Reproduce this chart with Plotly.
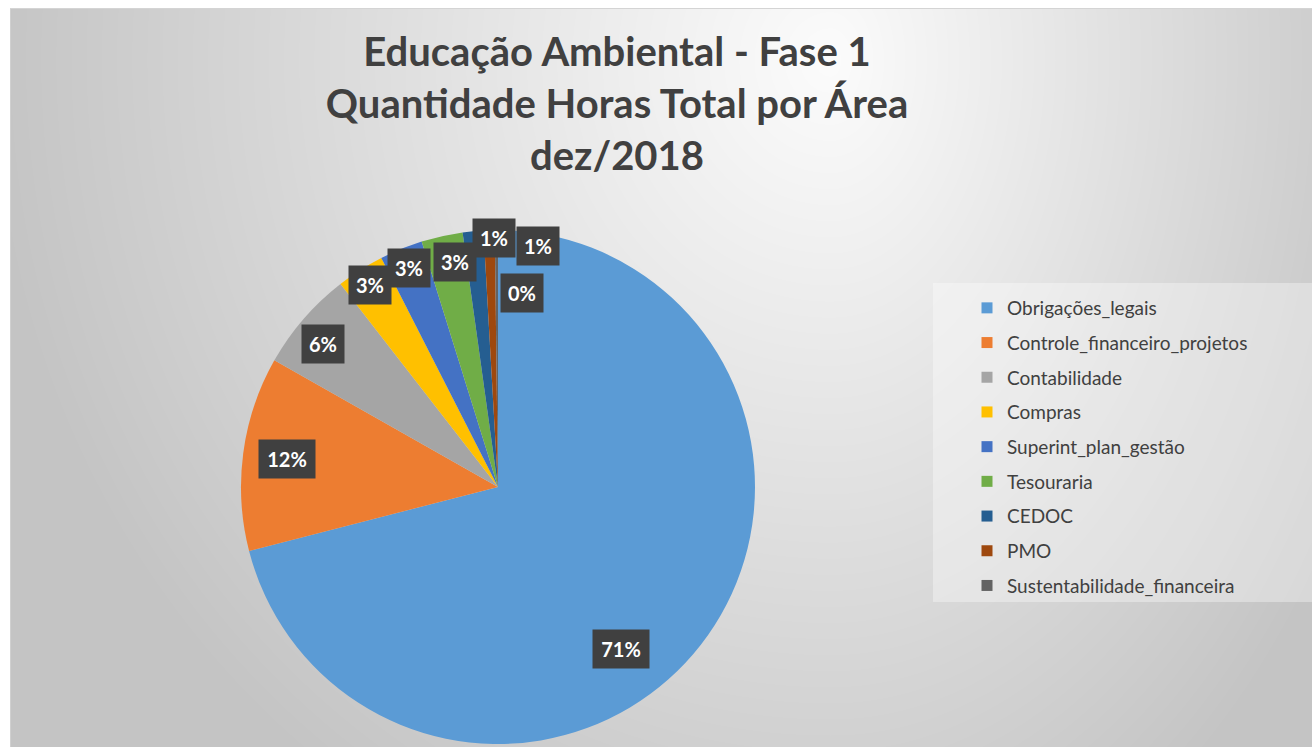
import base64, struct, zlib
import numpy as np
import plotly.graph_objects as go

# ---------------- data ----------------
categories = ["Obrigações_legais", "Controle_financeiro_projetos", "Contabilidade",
              "Compras", "Superint_plan_gestão", "Tesouraria", "CEDOC", "PMO",
              "Sustentabilidade_financeira"]
hours = [71.0, 12.2, 6.3, 3.0, 2.7, 2.6, 1.3, 0.7, 0.2]
colors = ["#5B9BD5", "#ED7D31", "#A5A5A5", "#FFC000", "#4472C4",
          "#70AD47", "#255E91", "#9E480E", "#636363"]
title_lines = ["Educação Ambiental - Fase 1", "Quantidade Horas Total por Área", "dez/2018"]

# ---------------- layout constants ----------------
W, H = 1312, 747
CX, CY, R = 498, 487, 257          # pie centre / radius in px
# label placement style (angle shift in deg, radius fraction)
lab_shift = [15, 0, -1.5, 0, 0, 1.7, 4.7, 11.4, 7.4]
lab_rad = [0.79, 0.83, 0.88, 0.93, 0.92, 0.89, 0.97, 0.95, 0.76]

# ---------------- background gradient image ----------------
yy, xx = np.mgrid[0:H, 0:W].astype(float)
gx, gy = 830.0, 60.0
rx = np.where(xx < gx, 850.0, 600.0)
ry = 900.0
t = np.sqrt(((xx - gx) / rx) ** 2 + ((yy - gy) / ry) ** 2)
t = np.clip(t, 0, 1)
img = 252 - (252 - 196) * t
img[:, :10] = 255
img[:9, :] = 255
img[9:, 10] = 208
img[8, 10:] = 212
img = img.astype(np.uint8)


def png_gray(a):
    h, w = a.shape
    raw = b"".join(b"\x00" + a[i].tobytes() for i in range(h))

    def chunk(tag, data):
        return (struct.pack(">I", len(data)) + tag + data +
                struct.pack(">I", zlib.crc32(tag + data) & 0xffffffff))
    ihdr = struct.pack(">IIBBBBB", w, h, 8, 0, 0, 0, 0)
    return (b"\x89PNG\r\n\x1a\n" + chunk(b"IHDR", ihdr) +
            chunk(b"IDAT", zlib.compress(raw, 9)) + chunk(b"IEND", b""))


bg_src = "data:image/png;base64," + base64.b64encode(png_gray(img)).decode()

# ---------------- figure ----------------
fig = go.Figure()
fig.add_trace(go.Pie(
    labels=categories, values=hours, sort=False, direction="clockwise", rotation=0,
    marker=dict(colors=colors, line=dict(width=0)),
    textinfo="none", hoverinfo="label+percent", showlegend=False,
    domain=dict(x=[(CX - R) / W, (CX + R) / W], y=[1 - (CY + R) / H, 1 - (CY - R) / H]),
))

# legend entries (one per category)
for name, c in zip(categories, colors):
    fig.add_trace(go.Scatter(x=[None], y=[None], mode="markers", name=name,
                             legendgroup=name,
                             marker=dict(symbol="square", size=11, color=c)))

# data labels
total = sum(hours)
annotations = []
cum = 0.0
for i, v in enumerate(hours):
    mid = (cum + v / 2) / total * 360.0
    cum += v
    ang = np.deg2rad(mid + lab_shift[i])
    px = CX + lab_rad[i] * R * np.sin(ang)
    py = CY - lab_rad[i] * R * np.cos(ang)
    txt = f"{round(100 * v / total)}%"
    annotations.append(dict(
        x=px / W, y=1 - py / H, xref="paper", yref="paper", showarrow=False,
        text=f"<b>{txt}</b>", font=dict(family="Lato", size=20, color="white"),
        bgcolor="#404040", borderpad=7, width=14 * len(txt),
        xanchor="center", yanchor="middle"))

title_text = "<br>".join(title_lines)

fig.update_layout(
    width=W, height=H,
    margin=dict(l=0, r=0, t=0, b=0),
    paper_bgcolor="white", plot_bgcolor="rgba(0,0,0,0)",
    xaxis=dict(visible=False), yaxis=dict(visible=False),
    title=dict(text=title_text, x=617 / W, xanchor="center", y=1 - 66 / H, yanchor="top",
               font=dict(family="Lato", size=40, color="#404040", weight="bold")),
    legend=dict(x=967 / W, xanchor="left", y=1 - 289 / H, yanchor="top",
                font=dict(family="Lato", size=19, color="#404040"),
                bgcolor="rgba(0,0,0,0)", tracegroupgap=7, traceorder="grouped"),
    images=[dict(source=bg_src, xref="paper", yref="paper", x=0, y=1, sizex=1, sizey=1,
                 xanchor="left", yanchor="top", sizing="stretch", layer="below")],
    shapes=[dict(type="rect", xref="paper", yref="paper", x0=933 / W, x1=1.0,
                 y0=1 - 602 / H, y1=1 - 283 / H, fillcolor="rgba(255,255,255,0.35)",
                 line=dict(width=0), layer="below")],
    annotations=annotations,
)

fig.write_html("out.html")
